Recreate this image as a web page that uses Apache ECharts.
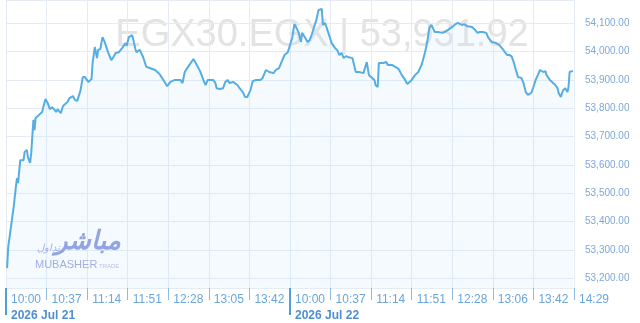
<!DOCTYPE html>
<html><head><meta charset="utf-8">
<script src="https://cdn.jsdelivr.net/npm/echarts@6/dist/echarts.min.js"></script>
<style>html,body{margin:0;padding:0;background:#fff}#c{width:640px;height:323px}</style>
</head><body><div id="c"></div>
<script>
// x-axis tick labels (compressed trading-time axis, 37 "minutes" per tick)
const tickLabels = ["10:00","10:37","11:14","11:51","12:28","13:05","13:42","10:00","10:37","11:14","11:51","12:28","13:06","13:42","14:29"];
const dayLabels = ["2026 Jul 21", "2026 Jul 22"];
const dayStartTicks = [0, 7];
const tickStep = 37;
const symbolTitle = "EGX30.EGX | 53,931.92";

// chart position in minutes from the first 10:00 tick
const minutes = [1,2,5,7,9,10,11,13,14,16,17,19,20,22,23,25,26,27,28,30,33,34,36,38,40,42,43,46,47,50,52,54,56,58,61,63,65,68,70,72,75,78,79,81,83,84,86,88,90,93,96,98,100,103,106,109,110,112,115,116,118,119,122,125,128,131,136,140,143,147,150,154,159,161,163,166,171,174,177,180,182,184,189,191,192,195,198,200,202,204,207,211,213,216,218,220,223,225,228,232,234,237,240,244,246,249,252,254,257,259,261,263,265,267,269,270,273,275,277,279,281,283,285,286,288,289,291,294,297,300,302,304,306,308,310,312,316,317,319,322,326,327,329,331,334,336,337,339,340,344,347,348,352,355,358,361,364,366,368,370,373,376,379,382,384,386,388,389,391,394,398,400,403,407,410,412,416,418,420,421,425,428,430,432,435,438,440,443,447,450,453,455,457,459,461,462,463,465,467,470,472,474,476,479,481,483,485,487,490,492,493,496,499,501,503,504,506,508,510,512,513,514,517];
const values = [53236,53310,53395,53452,53522,53554,53536,53617,53624,53617,53646,53653,53628,53607,53642,53759,53723,53766,53769,53776,53787,53804,53833,53819,53797,53804,53797,53787,53797,53783,53808,53815,53822,53836,53843,53829,53826,53864,53910,53910,53893,53903,53960,54016,53977,54006,54009,54051,54034,53998,53970,53981,53995,53998,54013,54030,54020,54051,54058,54044,54009,53998,54006,53981,53946,53942,53935,53921,53903,53878,53893,53900,53900,53889,53928,53946,53974,53953,53931,53900,53882,53900,53900,53889,53871,53868,53871,53893,53900,53889,53893,53882,53871,53857,53840,53840,53864,53896,53900,53900,53907,53935,53928,53924,53935,53942,53970,53988,53998,54023,54048,54097,54083,54066,54034,54066,54048,54034,54041,54062,54087,54111,54147,54154,54150,54094,54101,54066,54030,54013,54006,53988,53995,53977,53984,53981,53977,53960,53928,53928,53924,53928,53963,53917,53907,53900,53882,53875,53960,53960,53963,53953,53953,53946,53939,53917,53900,53886,53893,53900,53917,53928,53953,53995,54030,54083,54094,54090,54069,54069,54066,54069,54076,54087,54097,54101,54094,54097,54090,54097,54087,54076,54066,54069,54069,54066,54048,54034,54030,54023,54009,53998,53988,53988,53984,53977,53963,53935,53910,53907,53889,53857,53847,53854,53875,53900,53917,53935,53928,53931,53917,53900,53889,53882,53871,53854,53840,53864,53871,53857,53875,53928,53931.92];

const chart = echarts.init(document.getElementById('c'), null, {renderer: 'canvas'});
const FONT = 'Liberation Sans, Arial, sans-serif';
const xMax = tickStep * (tickLabels.length - 1);

chart.setOption({
  animation: false,
  backgroundColor: '#ffffff',
  grid: {left: 6, right: 66, top: 0, bottom: 35},
  xAxis: [{
    type: 'value', min: 0, max: xMax, interval: tickStep,
    axisLine: {show: false},
    axisTick: {show: true, length: 12, lineStyle: {color: '#8dbbe6', width: 1}},
    splitLine: {show: true, lineStyle: {color: '#e4ebf3', width: 1}},
    axisLabel: {
      show: true, margin: 6, align: 'left', showMinLabel: true, showMaxLabel: true, hideOverlap: false,
      fontFamily: FONT, fontSize: 12, color: '#6aa5dc', padding: [0, 0, 0, 5],
      formatter: v => tickLabels[Math.round(v / tickStep)]
    }
  }, {
    type: 'value', min: 0, max: xMax, interval: tickStep,
    position: 'bottom',
    axisLine: {show: false},
    splitLine: {show: false},
    axisTick: {show: true, length: 27, customValues: dayStartTicks.map(i => i * tickStep), lineStyle: {color: '#4f9fdc', width: 2}},
    axisLabel: {
      show: true, margin: 22, align: 'left', showMinLabel: true, hideOverlap: false,
      customValues: dayStartTicks.map(i => i * tickStep),
      fontFamily: FONT, fontSize: 12, fontWeight: 'bold', color: '#4f8fcf', padding: [0, 0, 0, 5],
      formatter: v => dayLabels[dayStartTicks.indexOf(Math.round(v / tickStep))]
    }
  }],
  yAxis: {
    type: 'value', position: 'right', min: 53166, max: 54182,
    minInterval: 100, maxInterval: 100, splitNumber: 10,
    axisLine: {show: false}, axisTick: {show: false},
    splitLine: {show: true, lineStyle: {color: '#e4ebf3', width: 1}},
    axisLabel: {
      margin: 11, showMinLabel: false, showMaxLabel: false, color: '#7ea7d8', fontFamily: FONT, fontSize: 10,
      formatter: v => v.toLocaleString('en-US', {minimumFractionDigits: 2, maximumFractionDigits: 2})
    }
  },
  graphic: [
    {type: 'text', z: 0, x: 322, y: 36,
      style: {text: symbolTitle, font: '38px Liberation Sans, Arial, sans-serif', fill: '#e3e3e3', align: 'center', verticalAlign: 'middle'}},
    {type: 'text', z: 10, x: 121, y: 242,
      style: {text: 'مباشر', font: 'italic bold 26px Noto Sans, DejaVu Sans, sans-serif', fill: '#93a4e2', align: 'right', verticalAlign: 'middle'}},
    {type: 'text', z: 10, x: 60, y: 248,
      style: {text: 'تداول', font: 'italic 10px Noto Sans, DejaVu Sans, sans-serif', fill: '#a3b3e8', align: 'right', verticalAlign: 'middle'}},
    {type: 'text', z: 10, x: 35, y: 265,
      style: {text: 'MUBASHER', font: '11px Liberation Sans, Arial, sans-serif', fill: '#a2aee2', align: 'left', verticalAlign: 'middle'}},
    {type: 'text', z: 10, x: 99, y: 266,
      style: {text: 'TRADE', font: '6px Liberation Sans, Arial, sans-serif', fill: '#b8c2ea', align: 'left', verticalAlign: 'middle'}}
  ],
  series: [{
    type: 'line', xAxisIndex: 0, yAxisIndex: 0,
    data: minutes.map((m, i) => [m, values[i]]),
    showSymbol: false, symbol: 'none', smooth: false,
    lineStyle: {color: '#55aee3', width: 2},
    areaStyle: {color: 'rgba(190,225,248,0.25)', origin: 'start'},
    z: 2
  }]
});
</script></body></html>
